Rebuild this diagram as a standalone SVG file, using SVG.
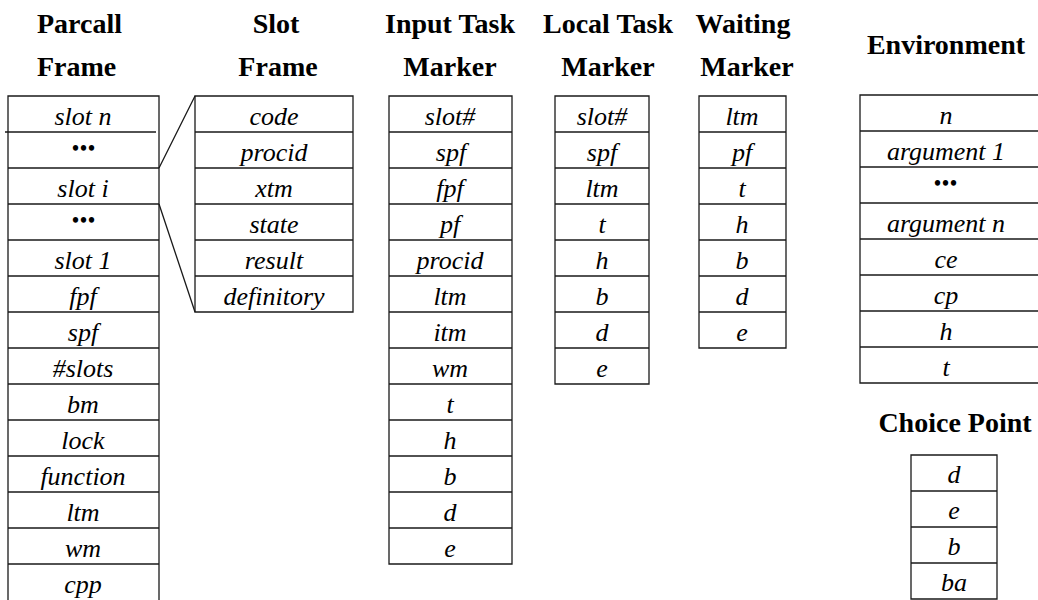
<svg xmlns="http://www.w3.org/2000/svg" width="1038" height="600" viewBox="0 0 1038 600">
<style>
.t{font-family:Tinos,"Liberation Serif","Times New Roman",Times,"Noto Serif","DejaVu Serif",serif;font-weight:bold;font-size:28px;fill:#000}
.c{text-anchor:middle}
.i{font-family:Tinos,"Liberation Serif","Times New Roman",Times,"Noto Serif","DejaVu Serif",serif;font-style:italic;font-size:26px;fill:#000;text-anchor:middle}
.d{font-family:Tinos,"Liberation Serif","Times New Roman",Times,"Noto Serif","DejaVu Serif",serif;font-weight:bold;font-size:20px;letter-spacing:1px;fill:#000;text-anchor:middle}
.b{fill:none;stroke:#1a1a1a;stroke-width:1.3}
</style>
<rect width="1038" height="600" fill="#fff"/>

<g id="titles">
<text class="t" x="37" y="33">Parcall</text>
<text class="t" x="37" y="76">Frame</text>
<text class="t c" x="276" y="33">Slot</text>
<text class="t c" x="278" y="76">Frame</text>
<text class="t c" x="450" y="33">Input Task</text>
<text class="t c" x="450" y="76">Marker</text>
<text class="t c" x="608" y="33">Local Task</text>
<text class="t c" x="608" y="76">Marker</text>
<text class="t c" x="743" y="33">Waiting</text>
<text class="t c" x="747" y="76">Marker</text>
<text class="t c" x="946" y="54">Environment</text>
<text class="t c" x="955" y="432">Choice Point</text>
</g>

<g id="parcall-frame">
<path class="b" d="M8,600 V96 H159 V600 M5,132 H156 M8,168 H159 M8,204 H159 M8,240 H159 M8,276 H159 M8,312 H159 M8,348 H159 M8,384 H159 M8,420 H159 M8,456 H159 M8,492 H159 M8,528 H159 M8,564 H159"/>
<text class="i" x="83" y="125">slot n</text>
<text class="d" x="84" y="155">•••</text>
<text class="i" x="83" y="197">slot i</text>
<text class="d" x="84" y="227">•••</text>
<text class="i" x="83" y="269">slot 1</text>
<text class="i" x="83" y="305">fpf</text>
<text class="i" x="83" y="341">spf</text>
<text class="i" x="83" y="377">#slots</text>
<text class="i" x="83" y="413">bm</text>
<text class="i" x="83" y="449">lock</text>
<text class="i" x="83" y="485">function</text>
<text class="i" x="83" y="521">ltm</text>
<text class="i" x="83" y="557">wm</text>
<text class="i" x="83" y="593">cpp</text>
</g>

<g id="slot-frame">
<path class="b" d="M195,96 H353 V312 H195 Z M195,132 H353 M195,168 H353 M195,204 H353 M195,240 H353 M195,276 H353"/>
<text class="i" x="274" y="125">code</text>
<text class="i" x="274" y="161">procid</text>
<text class="i" x="274" y="197">xtm</text>
<text class="i" x="274" y="233">state</text>
<text class="i" x="274" y="269">result</text>
<text class="i" x="274" y="305">definitory</text>
</g>

<g id="connectors">
<path class="b" d="M159,168 L195,96 M159,204 L195,312"/>
</g>

<g id="input-task-marker">
<path class="b" d="M389,96 H512 V564 H389 Z M389,132 H512 M389,168 H512 M389,204 H512 M389,240 H512 M389,276 H512 M389,312 H512 M389,348 H512 M389,384 H512 M389,420 H512 M389,456 H512 M389,492 H512 M389,528 H512"/>
<text class="i" x="450" y="125">slot#</text>
<text class="i" x="451" y="161">spf</text>
<text class="i" x="450" y="197">fpf</text>
<text class="i" x="450" y="233">pf</text>
<text class="i" x="450" y="269">procid</text>
<text class="i" x="450" y="305">ltm</text>
<text class="i" x="450" y="341">itm</text>
<text class="i" x="450" y="377">wm</text>
<text class="i" x="450" y="413">t</text>
<text class="i" x="450" y="449">h</text>
<text class="i" x="450" y="485">b</text>
<text class="i" x="450" y="521">d</text>
<text class="i" x="450" y="557">e</text>
</g>

<g id="local-task-marker">
<path class="b" d="M555,96 H649 V384 H555 Z M555,132 H649 M555,168 H649 M555,204 H649 M555,240 H649 M555,276 H649 M555,312 H649 M555,348 H649"/>
<text class="i" x="602" y="125">slot#</text>
<text class="i" x="602" y="161">spf</text>
<text class="i" x="602" y="197">ltm</text>
<text class="i" x="602" y="233">t</text>
<text class="i" x="602" y="269">h</text>
<text class="i" x="602" y="305">b</text>
<text class="i" x="602" y="341">d</text>
<text class="i" x="602" y="377">e</text>
</g>

<g id="waiting-marker">
<path class="b" d="M699,96 H786 V348 H699 Z M699,132 H786 M699,168 H786 M699,204 H786 M699,240 H786 M699,276 H786 M699,312 H786"/>
<text class="i" x="742" y="125">ltm</text>
<text class="i" x="742" y="161">pf</text>
<text class="i" x="742" y="197">t</text>
<text class="i" x="742" y="233">h</text>
<text class="i" x="742" y="269">b</text>
<text class="i" x="742" y="305">d</text>
<text class="i" x="742" y="341">e</text>
</g>

<g id="environment">
<path class="b" d="M1045,95 H860 V383 H1045 M860,131 H1045 M860,167 H1045 M860,203 H1045 M860,239 H1045 M860,275 H1045 M860,311 H1045 M860,347 H1045"/>
<text class="i" x="946" y="124">n</text>
<text class="i" x="946" y="160">argument 1</text>
<text class="d" x="946" y="190">•••</text>
<text class="i" x="946" y="232">argument n</text>
<text class="i" x="946" y="268">ce</text>
<text class="i" x="946" y="304">cp</text>
<text class="i" x="946" y="340">h</text>
<text class="i" x="946" y="376">t</text>
</g>

<g id="choice-point">
<path class="b" d="M911,455 H997 V599 H911 Z M911,491 H997 M911,527 H997 M911,563 H997"/>
<text class="i" x="954" y="483">d</text>
<text class="i" x="954" y="519">e</text>
<text class="i" x="954" y="555">b</text>
<text class="i" x="954" y="591">ba</text>
</g>
</svg>
